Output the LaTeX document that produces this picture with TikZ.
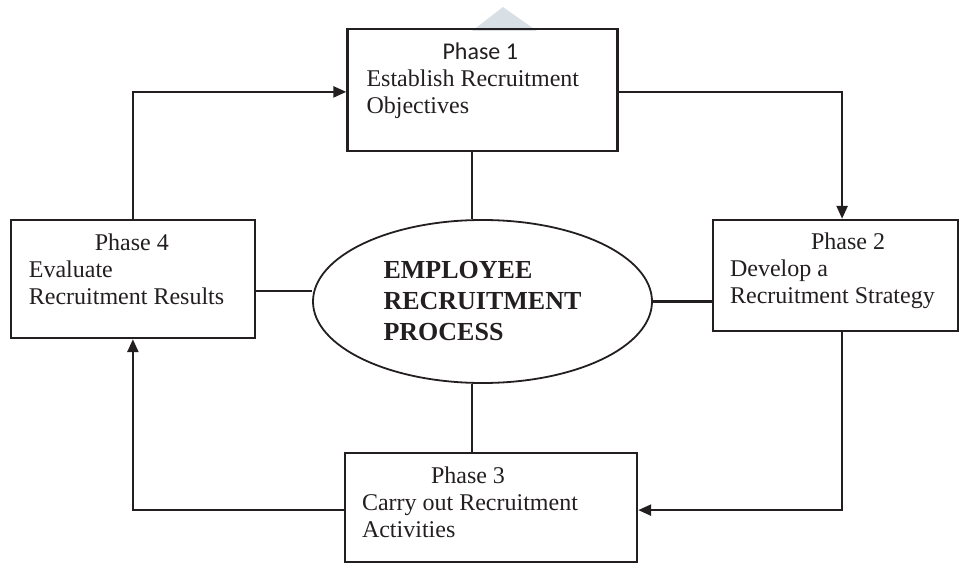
\documentclass[tikz,border=0pt]{standalone}
\usepackage{fontspec}
\setmainfont{Liberation Serif}
\newfontfamily\phasefont{Carlito}
\definecolor{marcaGris}{RGB}{216,224,230}
\definecolor{trazo}{RGB}{35,31,32}
\usetikzlibrary{shapes.geometric, arrows.meta, positioning}

\begin{document}
\begin{tikzpicture}[
  x=1pt, y=1pt,
  box/.style={rectangle, draw=trazo, line width=2.4pt},
  txt/.style={inner sep=0pt, align=left, text=trazo,
              font=\fontsize{24}{27}\selectfont},
  hub/.style={ellipse, draw=trazo, line width=1.8pt, inner sep=0pt,
              minimum width=339pt, minimum height=163pt, align=left,
              text=trazo, font=\fontsize{26}{31}\selectfont\bfseries},
  link/.style={draw=trazo, line width=2.4pt},
  arr/.style={-{Triangle[length=13pt,width=11pt]}, draw=trazo, line width=2.4pt}
]
\useasboundingbox (0,0) rectangle (959,563);

% marca de agua
\fill[marcaGris] (472,532) -- (503,556) -- (537,532) -- cycle;

% Proceso central
\node[hub] (erp) at (482.5,261.5) {EMPLOYEE\\RECRUITMENT\\PROCESS};

% Fase 1
\node[box, minimum width=270pt, minimum height=122pt, above=67pt of erp] (p1) {};
\node[txt, below right=15pt and 20pt of p1.north west] (t1)
  {\hspace*{76pt}{\phasefont Phase 1}\\Establish Recruitment\\Objectives};

% Fase 2
\node[box, minimum width=245pt, minimum height=111pt, right=59pt of erp, yshift=26pt] (p2) {};
\node[txt, below right=14pt and 18pt of p2.north west] (t2)
  {\hspace*{81pt}Phase 2\\Develop a\\Recruitment Strategy};

% Fase 3
\node[box, minimum width=292pt, minimum height=109pt, below=68pt of erp, xshift=8.5pt] (p3) {};
\node[txt, below right=15pt and 18pt of p3.north west] (t3)
  {\hspace*{69pt}Phase 3\\Carry out Recruitment\\Activities};

% Fase 4
\node[box, minimum width=244pt, minimum height=118pt, left=56pt of erp, yshift=22.5pt] (p4) {};
\node[txt, below right=15pt and 19pt of p4.north west] (t4)
  {\hspace*{66pt}Phase 4\\Evaluate\\Recruitment Results};

% Uniones con el centro
\draw[link] ([xshift=-10.5pt]erp.north) -- ([xshift=-10.5pt]erp.north |- p1.south);
\draw[link] ([xshift=-10.5pt]erp.south) -- ([xshift=-10.5pt]erp.south |- p3.north);
\draw[link] ([yshift=10.5pt]erp.west) -- ([yshift=10.5pt]erp.west -| p4.east);
\draw[link] (erp.east) -- (erp.east -| p2.west);

% Ciclo entre fases
\draw[arr] (p4.north) |- ([yshift=-2pt]p1.west);
\draw[arr] ([yshift=-2pt]p1.east) -| ([xshift=6.5pt]p2.north);
\draw[arr] ([xshift=6.5pt]p2.south) |- ([yshift=-2.5pt]p3.east);
\draw[arr] ([yshift=-2.5pt]p3.west) -| (p4.south);

\end{tikzpicture}
\end{document}
